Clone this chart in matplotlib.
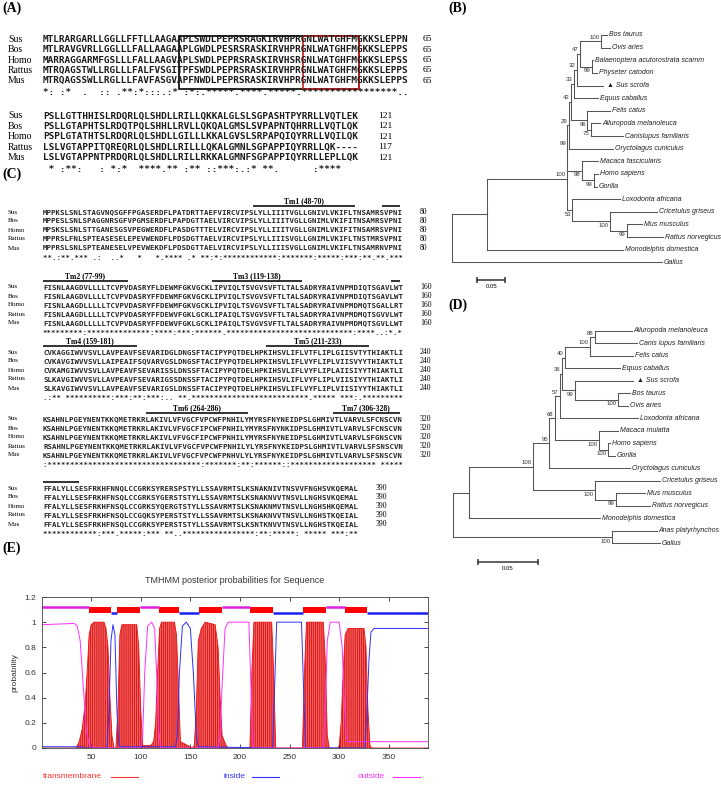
import matplotlib
matplotlib.use('Agg')
import matplotlib.pyplot as plt
from matplotlib.patches import Rectangle

plt.rcParams['font.family'] = ['Liberation Sans', 'DejaVu Sans']
plt.rcParams['hatch.linewidth'] = 0.45
plt.rcParams['hatch.color'] = '#b00000'

# ---------------- data ----------------
species = ['Sus', 'Bos', 'Homo', 'Rattus', 'Mus']

# (A) N-terminal alignment
a_block1 = ['MTLRARGARLLGGLLFFTLLAAGAAPLSWDLPEPRSRAGKIRVHPRGNLWATGHFMGKKSLEPPN',
            'MTLRAVGVRLLGGLLLFALLAAGAAPLGWDLPESRSRASKIRVHPRGNLWATGHFMGKKSLEPPS',
            'MARRAGGARMFGSLLLFALLAAGVAPLSWDLPEPRSRASKIRVHSRGNLWATGHFMGKKSLEPSS',
            'MTRQAGSTWLLRGLLLFALFVSGITPFSWDLPEPRSRASKIRVHPRGNLWATGHFMGKKSLEPPS',
            'MTRQAGSSWLLRGLLLFAVFASGVAPFNWDLPEPRSRASKIRVHPRGNLWATGHFMGKKSLEPPS']
a_cons1 = ("*: :*  .  " ":: .**:*::" ":.:* :*:.*" "****.****." "*****.****"
           "**********" "***..")
a_ends1 = [65, 65, 65, 65, 65]
a_block2 = ['PSLLGTTHHISLRDQRLQLSHDLLRILLQKKALGLSLSGPASHTPYRRLLVQTLEK',
            'PSLLGTAPHTSLRDQTPQLSHHLLRVLLQKQALGMSLSVPAPNTQHRRLLVQTLQK',
            'PSPLGTATHTSLRDQRLQLSHDLLGILLLKKALGVSLSRPAPQIQYRRLLVQILQK',
            'LSLVGTAPPITQREQRLQLSHDLLRILLLQKALGMNLSGPAPPIQYRRLLQK----',
            'LSLVGTAPPNTPRDQRLQLSHDLLRILLRKKALGMNFSGPAPPIQYRRLLEPLLQK']
a_cons2 = (" * :**:   " ": *:*  ***" "*.** :** :" ":***:.:* *" "*.      :*" "***   ")
a_ends2 = [121, 121, 121, 117, 121]
a_box_black = (25, 56)
a_box_red = (47, 56)

# (C) full-length alignment
c_block1 = ['MPPKSLSNLSTAGVNQSGFFPGASERDFLPATDRTTAEFVIRCVIPSLYLLIIITVGLLGNIVLVKIFLTNSAMRSVPNI',
            'MPPESLSNLSPAGGNRSGFVPGMSERDFLPAPDGTTAELVIRCVIPSLYLLIIITVGLLGNIMLVKIFITNSAMRSVPNI',
            'MPSKSLSNLSTTGANESGSVPEGWERDFLPASDGTTTELVIRCVIPSLYLLIIITVGLLGNIMLVKIFITNSAMRSVPNI',
            'MPPRSLFNLSPTEASESELEPEVWENDFLPDSDGTTAELVIRCVIPSLYLLIIISVGLLGNIMLVKIFLTNSTMRSVPNI',
            'MPPRSLSNLSPTEANESELVPEVWEKDFLPDSDGTTAELVIRCVIPSLYLLIIISVGLLGNIMLVKIFLTNSAMRNVPNI']
c_block2 = ['FISNLAAGDVLLLLTCVPVDASRYFLDEWMFGKVGCKLIPVIQLTSVGVSVFTLTALSADRYRAIVNPMDIQTSGAVLWT',
            'FISNLAAGDVLLLLTCVPVDASRYFFDEWMFGKVGCKLIPVIQLTSVGVSVFTLTALSADRYRAIVNPMDIQTSGAVLWT',
            'FISNLAAGDLLLLLTCVPVDASRYFFDEWMFGKVGCKLIPVIQLTSVGVSVFTLTALSADRYRAIVNPMDMQTSGALLRT',
            'FISNLAAGDLLLLLTCVPVDASRYFFDEWVFGKLGCKLIPAIQLTSVGVSVFTLTALSADRYRAIVNPMDMQTSGVVLWT',
            'FISNLAAGDLLLLLTCVPVDASRYFFDEWVFGKLGCKLIPAIQLTSVGVSVFTLTALSADRYRAIVNPMDMQTSGVLLWT']
c_block3 = ['CVKAGGIWVVSVLLAVPEAVFSEVARIDGLDNGSFTACIPYPQTDELHPKIHSVLIFLVTFLIPLGIISVTYTHIAKTLI',
            'CVKAVGIWVVSVLLAIPEAIFSQVARVGSLDNGSFTACIPYPQTDELHPKIHSVLIFLVYFLIPLVIISVYYTHIAKTLI',
            'CVKAMGIWVVSVLLAVPEAVFSEVARISSLDNSSFTACIPYPQTDELHPKIHSVLIFLVYFLIPLAIISIYYTHIAKTLI',
            'SLKAVGIWVVSVLLAVPEAVFSEVARIGSSDNSSFTACIPYPQTDELHPKIHSVLIFLVYFLIPLVIISIYYTHIAKTLI',
            'SLKAVGIWVVSVLLAVPEAVFSEVARIGSLDNSSFTACIPYPQTDELHPKIHSVLIFLVYFLIPLVIISIYYTHIAKTLI']
c_block4 = ['KSAHNLPGEYNENTKKQMETRKRLAKIVLVFVGCFVPCWFPNHILYMYRSFNYNEIDPSLGHMIVTLVARVLSFCNSCVN',
            'KSAHNLPGEYNENTKKQMETRKRLAKIVLVFVGCFIPCWFPNHILYMYRSFNYNKIDPSLGHMIVTLVARVLSFCNSCVN',
            'KSAHNLPGEYNENTKKQMETRKRLAKIVLVFVGCFIPCWFPNHILYMYRSFNYNEIDPSLGHMIVTLVARVLSFGNSCVN',
            'RSAHNLPGEYNENTKKQMETRKRLAKIVLVFVGCFVPCWFPNHILYLYRSFNYKEIDPSLGHMIVTLVARVLSFSNSCVN',
            'KSAHNLPGEYNENTKKQMETRKRLAKIVLVFVGCFVPCWFPNHVLYLYRSFNYKEIDPSLGHMIVTLVARVLSFSNSCVN']
c_block5 = ['FFALYLLSESFRKHFNNQLCCGRKSYRERSPSTYLLSSAVRMTSLKSNAKNIVTNSVVFNGHSVKQEMAL',
            'FFALYLLSESFRKHFNSQLCCGRKSYGERSTSTYLLSSAVRMTSLKSNAKNVVTNSVLLNGHSVKQEMAL',
            'FFALYLLSESFRKHFNSQLCCGRKSYQERGTSTYLLSSAVRMTSLKSNAKNMVTNSVLLNGHSHKQEMAL',
            'FFALYLLSESFRKHFNSQLCCGQKSYPERSTSTYLLSSAVRMTSLKSNAKNVVTNSVLLNGHSTKQEIAL',
            'FFALYLLSESFRKHFNSQLCCGRKSYPERSTSTYLLSSAVRMTSLKSNTKNVVTNSVLLNGHSTKQEIAL']
c_cons = [("**.:**.***" " .:  ..*  " " *   *.***" "* .* **:*:" "**********" "**:*******"
           ":*****:***" ":**.**.***"),
          ("*********:" "**********" "****:****:" "***:******" ".*********" "**********"
           "*********:" "****..:*.*"),
          (".:** *****" "*****:***:" "**:***:.. " "**.*******" "**********" "*********."
           "***** ***:" ".*********"),
          (":*********" "**********" "**********" "*****:****" "***:**:***" "***::*****"
           "**********" "**** *****"),
          ("**********" "**:***.***" "**:*** **." ".*********" "*******:**" ":*****: **"
           "*** ***:**")]
c_ends = [80, 160, 240, 320, 390]
tm_names = ['Tm1', 'Tm2', 'Tm3', 'Tm4', 'Tm5', 'Tm6', 'Tm7']
tm_start = [48, 77, 119, 159, 211, 264, 306]
tm_end = [70, 99, 138, 181, 233, 286, 328]

# (B) and (D) neighbour-joining trees: (bootstrap, depth, children) or (leaf, depth)
tree_b = (None, 0.0, [
    (None, 0.064, [
        ('100', 0.208, [
            ('99', 0.209, [
                ('29', 0.211, [
                    ('42', 0.216, [
                        ('33', 0.221, [
                            ('32', 0.226, [
                                ('47', 0.232, [
                                    ('100', 0.269, [('Bos taurus', 0.280), ('Ovis aries', 0.286)]),
                                    ('99', 0.253, [('Balaenoptera acutorostrata scamm', 0.255),
                                                   ('Physeter catodon', 0.262)]),
                                ]),
                                ('Sus scrofa', 0.273),
                            ]),
                            ('Equus caballus', 0.264),
                        ]),
                        ('96', 0.245, [('Felis catus', 0.286),
                                       ('75', 0.251, [('Ailuropoda melanoleuca', 0.268),
                                                      ('Canislupus familiaris', 0.309)])]),
                    ]),
                    ('Oryctolagus cuniculus', 0.291),
                ]),
                ('98', 0.235, [('Macaca fascicularis', 0.264),
                               ('99', 0.256, [('Homo sapiens', 0.264), ('Gorilla', 0.262)])]),
            ]),
            ('53', 0.218, [('Loxodonta africana', 0.304),
                           ('100', 0.286, [('Cricetulus griseus', 0.370),
                                           ('99', 0.317, [('Mus musculus', 0.343),
                                                          ('Rattus norvegicus', 0.381)])])]),
        ]),
        ('Monodelphis domestica', 0.309),
    ]),
    ('Gallus', 0.379),
])

tree_d = (None, 0.0, [
    (None, 0.0137, [
        ('100', 0.0678, [
            ('95', 0.0813, [
                ('68', 0.0861, [
                    ('57', 0.0903, [
                        ('36', 0.0917, [
                            ('40', 0.0945, [
                                ('100', 0.1156, [
                                    ('88', 0.1198, [('Ailuropoda melanoleuca', 0.1507),
                                                    ('Canis lupus familiaris', 0.1549)]),
                                    ('Felis catus', 0.1520),
                                ]),
                                ('Equus caballus', 0.1408),
                            ]),
                            ('99', 0.1029, [('Sus scrofa', 0.1520),
                                            ('100', 0.1394, [('Bos taurus', 0.1492),
                                                             ('Ovis aries', 0.1478)])]),
                        ]),
                        ('Loxodonta africana', 0.1562),
                    ]),
                    ('100', 0.1234, [('Macaca mulatta', 0.1394),
                                     ('100', 0.1310, [('Homo sapiens', 0.1324), ('Gorilla', 0.1366)])]),
                ]),
                ('Oryctolagus cuniculus', 0.1492),
            ]),
            ('100', 0.1198, [('Cricetulus griseus', 0.1745),
                             ('99', 0.1375, [('Mus musculus', 0.1619), ('Rattus norvegicus', 0.1661)])]),
        ]),
        ('Monodelphis domestica', 0.1240),
    ]),
    ('100', 0.1338, [('Anas platyrhynchos', 0.1717), ('Gallus', 0.1745)]),
])
scale_len = 0.05

# (E) TMHMM posterior probabilities
tm_pos = [1, 35, 38, 41, 44, 46, 48, 50, 53, 63, 65, 67, 69, 71, 73,
          75, 77, 79, 81, 96, 98, 100, 102,
          110, 113, 115, 117, 119, 121, 134, 136, 138, 140,
          152, 154, 156, 158, 161, 165, 175, 178, 180, 182, 186, 188,
          209, 210, 212, 214, 232, 234, 236,
          262, 263, 265, 267, 284, 286, 288, 290,
          299, 300, 302, 304, 306, 309, 325, 327, 329, 331, 333, 390]
tm_prob = [0, 0, 0.05, 0.15, 0.35, 0.6, 0.9, 0.98, 1.0, 1.0, 0.95, 0.8, 0.4, 0.1, 0.0,
           0.0, 0.3, 0.9, 0.98, 0.98, 0.8, 0.3, 0.02,
           0.02, 0.05, 0.2, 0.6, 0.95, 1.0, 1.0, 0.9, 0.5, 0.05,
           0.0, 0.02, 0.3, 0.85, 0.95, 1.0, 0.98, 0.8, 0.4, 0.1, 0.02, 0.0,
           0.0, 0.0, 0.6, 1.0, 1.0, 0.6, 0.0,
           0.0, 0.0, 0.6, 1.0, 1.0, 0.7, 0.1, 0.0,
           0.0, 0.02, 0.2, 0.6, 0.9, 0.95, 0.95, 0.8, 0.3, 0.02, 0.0, 0.0]
in_pos = [1, 40, 44, 66, 68, 70, 72, 74, 76, 78, 80,
          135, 137, 139, 142, 146, 150, 153, 156, 158,
          233, 235, 237, 262, 264, 266,
          326, 328, 330, 332, 335, 390]
in_prob = [0.01, 0.01, 0.0, 0.0, 0.3, 0.85, 0.98, 0.9, 0.3, 0.02, 0.01,
           0.01, 0.1, 0.6, 0.97, 1.0, 0.95, 0.6, 0.1, 0.01,
           0.0, 0.5, 1.0, 1.0, 0.5, 0.0,
           0.0, 0.3, 0.7, 0.92, 0.95, 0.95]
out_pos = [1, 33, 36, 39, 42, 45, 48, 52,
           100, 102, 104, 107, 111, 114, 116, 118, 120,
           178, 180, 182, 185, 188, 209, 211, 213,
           284, 286, 288, 291, 300, 303, 305, 307, 309, 390]
out_prob = [0.98, 0.99, 0.97, 0.85, 0.5, 0.15, 0.03, 0.0,
            0.0, 0.1, 0.6, 0.97, 1.0, 0.95, 0.6, 0.15, 0.0,
            0.0, 0.1, 0.5, 0.95, 1.0, 1.0, 0.5, 0.0,
            0.0, 0.3, 0.85, 1.0, 1.0, 0.8, 0.4, 0.1, 0.05, 0.05]
topo_kind = ['o', 'TM', 'i', 'TM', 'o', 'TM', 'i', 'TM', 'o', 'TM', 'i', 'TM', 'o', 'TM', 'i']
topo_start = [1, 48, 71, 77, 100, 119, 139, 159, 182, 211, 234, 264, 287, 306, 329]
topo_end = [47, 70, 76, 99, 118, 138, 158, 181, 210, 233, 263, 286, 305, 328, 390]

# ---------------- figure ----------------
W, H = 721, 785
fig = plt.figure(figsize=(W / 100, H / 100), dpi=100)
bg = fig.add_axes([0, 0, 1, 1])
bg.set_xlim(0, W)
bg.set_ylim(H, 0)
bg.axis('off')

MONO = 'DejaVu Sans Mono'
SERIF = 'Liberation Serif'
SEQ_X = 43


def px_axes(left, top, right, bottom):
    return fig.add_axes([left / W, 1 - bottom / H, (right - left) / W, (bottom - top) / H])


def panel_label(x, y, s):
    bg.text(x, y, s, family=SERIF, fontsize=10, fontweight='bold', va='center')


def draw_alignment(rows, cons, ends, y0, dy, cw, name_fs, num_fs, num_gap, color):
    fs = cw / 0.602 * 0.72
    for k, seq in enumerate(rows):
        y = y0 + k * dy
        bg.text(8, y, species[k], family=SERIF, fontsize=name_fs, va='center')
        bg.text(SEQ_X, y, seq, family=MONO, fontsize=fs, fontweight='bold',
                va='center', color=color)
        bg.text(SEQ_X + len(rows[0]) * cw + num_gap, y, str(ends[k]), family=SERIF,
                fontsize=num_fs, va='center')
    bg.text(SEQ_X, y0 + len(rows) * dy + 1, cons, family=MONO, fontsize=fs,
            fontweight='bold', va='center', color=color)


# (A)
panel_label(2, 8, '(A)')
CW_A = 5.65
draw_alignment(a_block1, a_cons1, a_ends1, 39.3, 10.4, CW_A, 7, 6.8, 12, '#1a1a1a')
draw_alignment(a_block2, a_cons2, a_ends2, 116, 10.4, CW_A, 7, 6.8, 19, '#1a1a1a')
for (s, e), col in [(a_box_black, 'black'), (a_box_red, '#d02020')]:
    bg.add_patch(Rectangle((SEQ_X + (s - 1) * CW_A, 35.5), (e - s + 1) * CW_A, 53,
                           fill=False, edgecolor=col, lw=1.2))

# (C)
panel_label(2, 174, '(C)')
CW_C = 4.46
c_blocks = [c_block1, c_block2, c_block3, c_block4, c_block5]
c_y0 = [212, 287, 352, 419, 488]
first = 1
for b, rows in enumerate(c_blocks):
    draw_alignment(rows, c_cons[b], [c_ends[b]] * 5, c_y0[b], 9, CW_C, 5, 5.5, 20, '#262626')
    last = first + len(rows[0]) - 1
    for name, s, e in zip(tm_names, tm_start, tm_end):
        a, z = max(s, first), min(e, last)
        if a > z:
            continue
        x1 = SEQ_X + (a - first) * CW_C
        x2 = SEQ_X + (z - first + 1) * CW_C
        bg.plot([x1, x2], [c_y0[b] - 6, c_y0[b] - 6], color='#111111', lw=1.2,
                solid_capstyle='butt')
        if 2 * (z - a + 1) > (e - s + 1):
            bg.text((x1 + x2) / 2, c_y0[b] - 11, '%s (%d-%d)' % (name, s, e), family=SERIF,
                    fontsize=5.5, fontweight='bold', ha='center', va='center')
    first = last + 1


# (B), (D) trees
def draw_tree(ax, node, order, upper=True):
    if len(node) == 2:
        y = len(order)
        order.append(node[0])
        txt = node[0]
        off = 1.5
        if txt == 'Sus scrofa':
            txt = '\u25B2 ' + txt
            off = 3
        ax.annotate(txt, (node[1], y), xytext=(off, 0), textcoords='offset points',
                    ha='left', va='center', fontsize=5, style='italic', color='#222222',
                    family=['Liberation Sans', 'DejaVu Sans'])
        return y
    ys = [draw_tree(ax, ch, order, i == 0) for i, ch in enumerate(node[2])]
    x = node[1]
    y = (ys[0] + ys[-1]) / 2
    ax.plot([x, x], [ys[0], ys[-1]], color='#555555', lw=0.75)
    for ch, cy in zip(node[2], ys):
        ax.plot([x, ch[1]], [cy, cy], color='#555555', lw=0.75)
    if node[0]:
        ax.annotate(node[0], (x, y), xytext=(-1, 3 if upper else -3), textcoords='offset points',
                    ha='right', va='center', fontsize=4.3, color='#333333')
    return y


def tree_axes(tree, left, top, right, bottom, root_px, px_unit, leaf0, leaf_dy, bar_px, bar_y):
    ax = px_axes(left, top, right, bottom)
    draw_tree(ax, tree, [])
    ax.set_xlim((left - root_px) / px_unit, (right - root_px) / px_unit)
    ax.set_ylim((bottom - leaf0) / leaf_dy, (top - leaf0) / leaf_dy)
    ax.axis('off')
    bx = (bar_px - root_px) / px_unit
    by = (bar_y - leaf0) / leaf_dy
    ax.plot([bx, bx + scale_len], [by, by], color='#333333', lw=1.1, marker='|',
            markersize=4, markeredgewidth=1.1)
    ax.annotate('%.2f' % scale_len, (bx + scale_len / 2, by), xytext=(0, -3),
                textcoords='offset points', ha='center', va='top', fontsize=4.3)
    return ax


panel_label(448, 8, '(B)')
tree_axes(tree_b, 440, 25, 721, 295, 451.7, 554, 35, 12.63, 477.3, 280)
panel_label(448, 305, '(D)')
tree_axes(tree_d, 440, 318, 721, 580, 452.7, 1188, 331, 12.49, 478.3, 561.7)

# (E)
panel_label(2, 548, '(E)')
ax = px_axes(41.5, 597, 428.5, 748)
ax.fill_between(tm_pos, tm_prob, facecolor='#ff5c5c', hatch='||||||||', edgecolor='#b00000',
                linewidth=0)
ax.plot(tm_pos, tm_prob, color='#ee1111', lw=0.6)
ax.plot(in_pos, in_prob, color='#3030ff', lw=0.7)
ax.plot(out_pos, out_prob, color='#ff30ff', lw=0.7)
for kind, s, e in zip(topo_kind, topo_start, topo_end):
    if kind == 'TM':
        ax.add_patch(Rectangle((s - 0.5, 1.072), e - s + 1, 0.048, facecolor='#ff0000',
                               edgecolor='none'))
    elif kind == 'i':
        ax.plot([s - 0.5, e + 0.5], [1.074, 1.074], color='#2020ee', lw=1.8,
                solid_capstyle='butt')
    else:
        ax.plot([s - 0.5, e + 0.5], [1.118, 1.118], color='#e020e0', lw=1.8,
                solid_capstyle='butt')
ax.set_xlim(0, 390)
ax.set_ylim(0, 1.2)
ax.set_xticks([50, 100, 150, 200, 250, 300, 350])
ax.set_yticks([0, 0.2, 0.4, 0.6, 0.8, 1.0, 1.2])
ax.set_yticklabels(['0', '0.2', '0.4', '0.6', '0.8', '1', '1.2'])
ax.tick_params(direction='in', top=True, right=True, length=3, width=0.5, labelsize=6,
               labelcolor='#333333', pad=4)
for sp in ax.spines.values():
    sp.set_linewidth(0.6)
    sp.set_color('#444444')
ax.set_ylabel('probability', fontsize=6, color='#333333', labelpad=4)
ax.set_title('TMHMM posterior probabilities for Sequence', fontsize=6.5, color='#333333', pad=10)

for txt, col, tx, lx in [('transmembrane', '#ff3030', 43, 111), ('inside', '#3030ff', 224, 252),
                         ('outside', '#ff30ff', 358, 393)]:
    bg.text(tx, 777, txt, color=col, fontsize=6, va='center')
    bg.plot([lx, lx + 27], [777, 777], color=col, lw=0.8)

fig.savefig('out.png', dpi=100)
